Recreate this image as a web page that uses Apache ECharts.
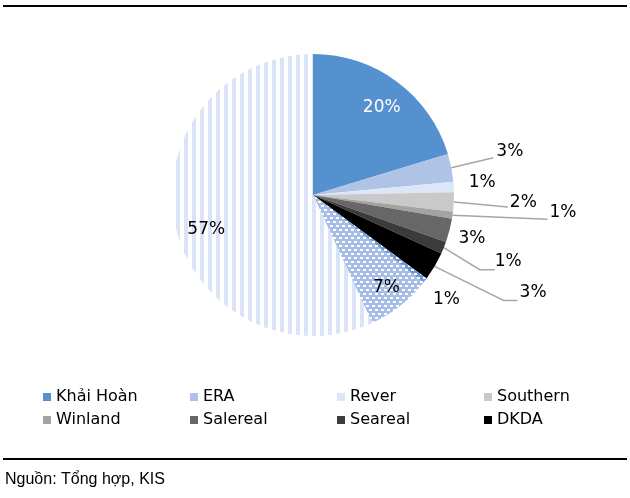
<!DOCTYPE html>
<html>
<head>
<meta charset="utf-8">
<script src="https://cdn.jsdelivr.net/npm/echarts@6/dist/echarts.min.js"></script>
<style>
  html, body { margin: 0; padding: 0; background: #fff; }
  #chart { width: 630px; height: 498px; }
</style>
</head>
<body>
<div id="chart"></div>
<script>
// thị phần (%) theo đơn vị
const names = ['Khải Hoàn', 'ERA', 'Rever', 'Southern', 'Winland', 'Salereal', 'Seareal', 'DKDA', 'Khác 1', 'Khác 2', 'Khác 3']
const shares = [20.3, 3.2, 1.2, 2.2, 0.8, 2.7, 1.4, 3.3, 0.6, 7.4, 56.9]
// chỉ 8 đơn vị đầu hiện trong chú thích
const legendNames = names.slice(0, 8)

// nền hoa văn cho các miếng không có trong chú thích
function makePattern(w, h, bg, fg, rects) {
  const c = document.createElement('canvas')
  c.width = w
  c.height = h
  const ctx = c.getContext('2d')
  ctx.fillStyle = bg
  ctx.fillRect(0, 0, w, h)
  ctx.fillStyle = fg
  rects.forEach(r => ctx.fillRect(r[0], r[1], r[2], r[3]))
  return { image: c, repeat: 'repeat' }
}
const dots = [[0, 1, 3, 2], [3, 5, 3, 2]]
const colors = [
  '#5590cf', '#aec3e6', '#dce6f6', '#c9c9c9', '#a3a3a3', '#676767', '#3b3b3b', '#000000',
  makePattern(6, 8, '#6f9ad6', '#ffffff', dots),
  makePattern(6, 8, '#a6bee7', '#ffffff', dots),
  makePattern(8, 8, '#ffffff', '#dae4f6', [[0, 0, 4, 8]])
]

// vị trí nhãn: miếng trong -> dời từ chỗ mặc định, miếng ngoài -> so với mép miếng
const labelNudge = [
  { inside: true, dx: 25, dy: -28 },
  { lx: 45, ly: -16, line: [[42, -10]] },
  { lx: 15, ly: -4, line: [] },
  { lx: 56, ly: 0, line: [[54, 5]] },
  { lx: 97, ly: -3, line: [[95, 4]] },
  { lx: 9, ly: 8, line: [] },
  { lx: 51, ly: 14, line: [[36, 22], [51, 22]] },
  { lx: 85, ly: 26, line: [[69, 34], [83, 34]] },
  { lx: 8, ly: 19, line: [] },
  { inside: true, dx: 28, dy: 35 },
  { inside: true, dx: -35, dy: 19 }
]

const chart = echarts.init(document.getElementById('chart'))

chart.setOption({
  animation: false,
  textStyle: { fontFamily: 'DejaVu Sans' },
  legend: {
    data: legendNames,
    left: 43,
    top: 389,
    width: 590,
    padding: 0,
    icon: 'rect',
    itemWidth: 8,
    itemHeight: 8,
    itemGap: 7,
    selectedMode: false,
    textStyle: { fontFamily: 'DejaVu Sans', fontSize: 16, color: '#000', width: 127, lineHeight: 16 }
  },
  graphic: [
    { type: 'rect', left: 3, top: 5, shape: { width: 624, height: 2 }, style: { fill: '#000' } },
    { type: 'rect', left: 3, top: 458, shape: { width: 624, height: 2 }, style: { fill: '#000' } },
    {
      type: 'text', x: 5, y: 480,
      style: { text: 'Nguồn: Tổng hợp, KIS', font: '16px "Liberation Sans"', fill: '#000', verticalAlign: 'middle' }
    }
  ],
  series: [
    {
      type: 'pie',
      center: [313, 195],
      radius: 141,
      avoidLabelOverlap: false,
      label: {
        position: 'outside',
        fontFamily: 'DejaVu Sans',
        fontSize: 17,
        color: '#000',
        formatter: p => Math.round(p.percent) + '%'
      },
      labelLine: { show: true, length: 10, length2: 10, lineStyle: { color: '#a6a6a6', width: 1.5 } },
      labelLayout: function (p) {
        const n = labelNudge[p.dataIndex]
        if (n.inside) {
          return {
            x: p.labelRect.x + p.labelRect.width / 2 + n.dx,
            y: p.labelRect.y + p.labelRect.height / 2 + n.dy
          }
        }
        const p0 = [p.labelLinePoints[0][0], p.labelLinePoints[0][1]]
        const pts = [p0].concat(n.line.map(d => [p0[0] + d[0], p0[1] + d[1]]))
        while (pts.length < 3) pts.push(pts[pts.length - 1].slice())
        return { x: p0[0] + n.lx, y: p0[1] + n.ly, labelLinePoints: pts }
      },
      data: names.map((name, i) => {
        const item = { name: name, value: shares[i], itemStyle: { color: colors[i] } }
        if (labelNudge[i].inside) {
          item.label = { position: 'inside', color: i === 0 ? '#fff' : '#000' }
        }
        return item
      })
    }
  ]
})
</script>
</body>
</html>
